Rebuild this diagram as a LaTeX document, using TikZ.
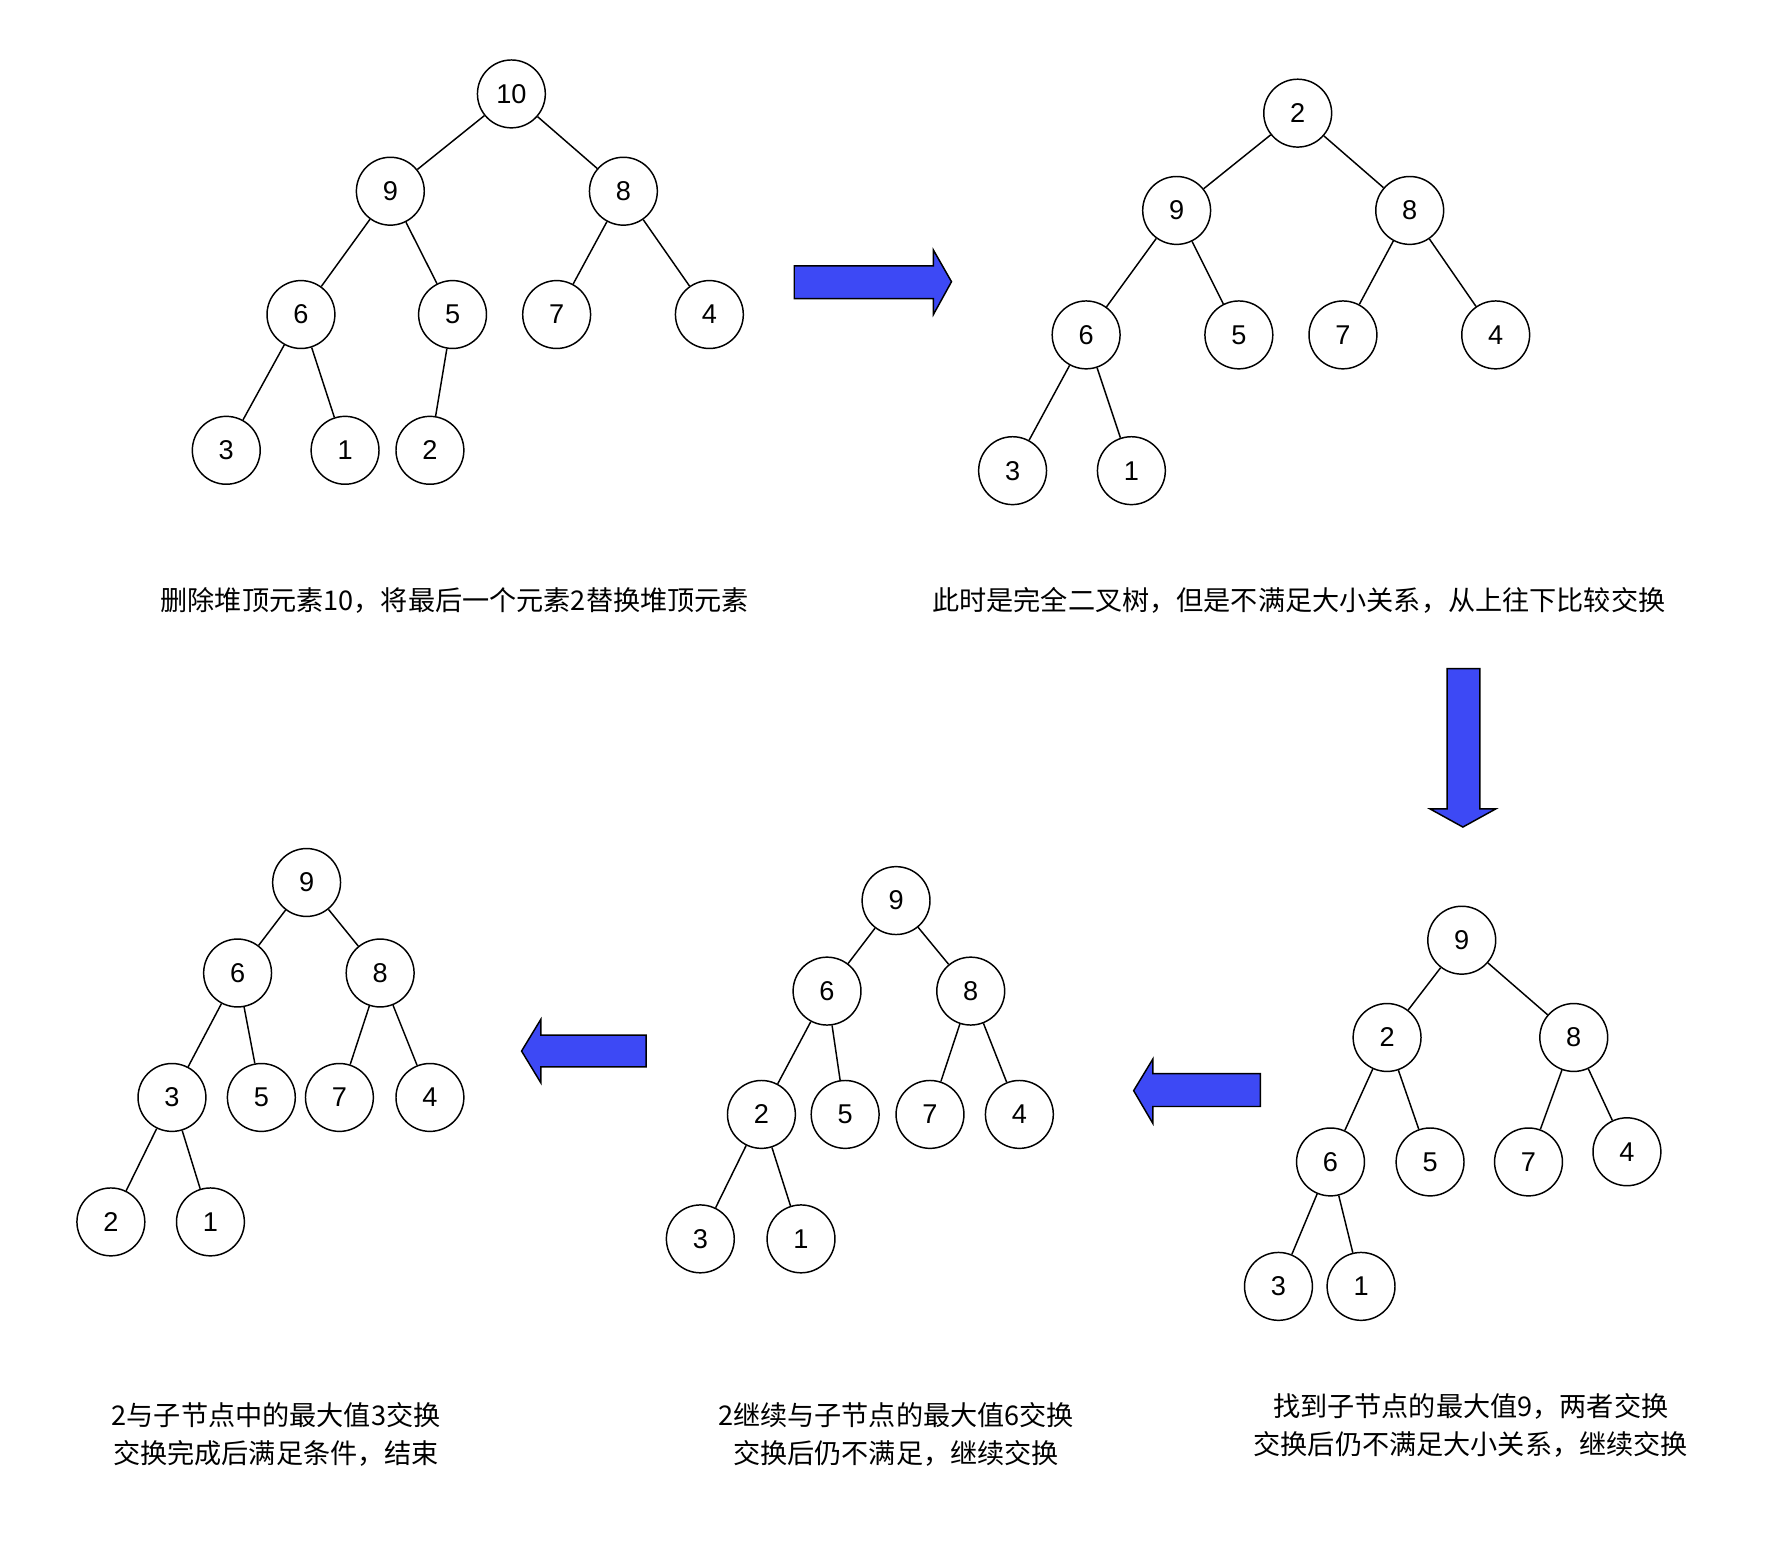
\documentclass[tikz,border=0pt]{standalone}
\usepackage{fontspec}
\setmainfont{Liberation Sans}
\newfontfamily\cjk{Noto Sans CJK SC}
\usepackage{tikz}
\definecolor{arrowblue}{RGB}{61,73,245}

\begin{document}
\begin{tikzpicture}[x=0.5pt, y=-0.5pt, line width=0.65pt,
    hnode/.style={circle, draw, minimum size=30pt, inner sep=0pt, font=\fontsize{12}{14}\selectfont},
    caption/.style={align=center, font=\cjk\fontsize{12}{17}\selectfont},
    bigarrow/.style={draw, fill=arrowblue, line width=0.65pt, line join=miter}]
        \useasboundingbox (0,0) rectangle (1568,1377);

        % Tree A: delete top
        \node[hnode] (a10) at (452, 83) {10};
        \node[hnode] (a9) at (345, 169) {9};
        \node[hnode] (a8) at (551, 169) {8};
        \node[hnode] (a6) at (266, 278) {6};
        \node[hnode] (a5) at (400, 278) {5};
        \node[hnode] (a7) at (492, 278) {7};
        \node[hnode] (a4) at (627, 278) {4};
        \node[hnode] (a3) at (200, 398) {3};
        \node[hnode] (a1) at (305, 398) {1};
        \node[hnode] (a2) at (380, 398) {2};
        \draw (a10) -- (a9);
        \draw (a10) -- (a8);
        \draw (a9) -- (a6);
        \draw (a9) -- (a5);
        \draw (a8) -- (a7);
        \draw (a8) -- (a4);
        \draw (a6) -- (a3);
        \draw (a6) -- (a1);
        \draw (a5) -- (a2);
        \node[caption] (capa) at (402, 531) {删除堆顶元素10，将最后一个元素2替换堆顶元素};

        % Tree B: 2 on top
        \node[hnode] (b2) at (1147, 100) {2};
        \node[hnode] (b9) at (1040, 186) {9};
        \node[hnode] (b8) at (1246, 186) {8};
        \node[hnode] (b6) at (960, 296) {6};
        \node[hnode] (b5) at (1095, 296) {5};
        \node[hnode] (b7) at (1187, 296) {7};
        \node[hnode] (b4) at (1322, 296) {4};
        \node[hnode] (b3) at (895, 416) {3};
        \node[hnode] (b1) at (1000, 416) {1};
        \draw (b2) -- (b9);
        \draw (b2) -- (b8);
        \draw (b9) -- (b6);
        \draw (b9) -- (b5);
        \draw (b8) -- (b7);
        \draw (b8) -- (b4);
        \draw (b6) -- (b3);
        \draw (b6) -- (b1);
        \node[caption] (capb) at (1148, 531) {此时是完全二叉树，但是不满足大小关系，从上往下比较交换};

        % Tree C: 9 swapped up
        \node[hnode] (c9) at (1292, 831) {9};
        \node[hnode] (c2) at (1226, 917) {2};
        \node[hnode] (c8) at (1391, 917) {8};
        \node[hnode] (c6) at (1176, 1027) {6};
        \node[hnode] (c5) at (1264, 1027) {5};
        \node[hnode] (c7) at (1351, 1027) {7};
        \node[hnode] (c4) at (1438, 1018) {4};
        \node[hnode] (c3) at (1130, 1137) {3};
        \node[hnode] (c1) at (1203, 1137) {1};
        \draw (c9) -- (c2);
        \draw (c9) -- (c8);
        \draw (c2) -- (c6);
        \draw (c2) -- (c5);
        \draw (c8) -- (c7);
        \draw (c8) -- (c4);
        \draw (c6) -- (c3);
        \draw (c6) -- (c1);
        \node[caption] (capc) at (1300, 1260) {找到子节点的最大值9，两者交换\\交换后仍不满足大小关系，继续交换};

        % Tree D: 6 swapped up
        \node[hnode] (d9) at (792, 796) {9};
        \node[hnode] (d6) at (731, 876) {6};
        \node[hnode] (d8) at (858, 876) {8};
        \node[hnode] (d2) at (673, 985) {2};
        \node[hnode] (d5) at (747, 985) {5};
        \node[hnode] (d7) at (822, 985) {7};
        \node[hnode] (d4) at (901, 985) {4};
        \node[hnode] (d3) at (619, 1095) {3};
        \node[hnode] (d1) at (708, 1095) {1};
        \draw (d9) -- (d6);
        \draw (d9) -- (d8);
        \draw (d6) -- (d2);
        \draw (d6) -- (d5);
        \draw (d8) -- (d7);
        \draw (d8) -- (d4);
        \draw (d2) -- (d3);
        \draw (d2) -- (d1);
        \node[caption] (capd) at (792, 1268) {2继续与子节点的最大值6交换\\交换后仍不满足，继续交换};

        % Tree E: done
        \node[hnode] (e9) at (271, 780) {9};
        \node[hnode] (e6) at (210, 860) {6};
        \node[hnode] (e8) at (336, 860) {8};
        \node[hnode] (e3) at (152, 970) {3};
        \node[hnode] (e5) at (231, 970) {5};
        \node[hnode] (e7) at (300, 970) {7};
        \node[hnode] (e4) at (380, 970) {4};
        \node[hnode] (e2) at (98, 1080) {2};
        \node[hnode] (e1) at (186, 1080) {1};
        \draw (e9) -- (e6);
        \draw (e9) -- (e8);
        \draw (e6) -- (e3);
        \draw (e6) -- (e5);
        \draw (e8) -- (e7);
        \draw (e8) -- (e4);
        \draw (e3) -- (e2);
        \draw (e3) -- (e1);
        \node[caption] (cape) at (244, 1268) {2与子节点中的最大值3交换\\交换完成后满足条件，结束};

        % Block arrows
        \draw[bigarrow] (702, 235) -- (825, 235) -- (825, 221) -- (841, 249) -- (825, 278) -- (825, 264) -- (702, 264) -- cycle;
        \draw[bigarrow] (1279, 591) -- (1308, 591) -- (1308, 715) -- (1322, 715) -- (1293, 731) -- (1264, 715) -- (1279, 715) -- cycle;
        \draw[bigarrow] (1114, 949) -- (1019, 949) -- (1019, 936) -- (1002, 964) -- (1019, 993) -- (1019, 978) -- (1114, 978) -- cycle;
        \draw[bigarrow] (571, 915) -- (478, 915) -- (478, 901) -- (461, 929) -- (478, 957) -- (478, 943) -- (571, 943) -- cycle;
\end{tikzpicture}
\end{document}
